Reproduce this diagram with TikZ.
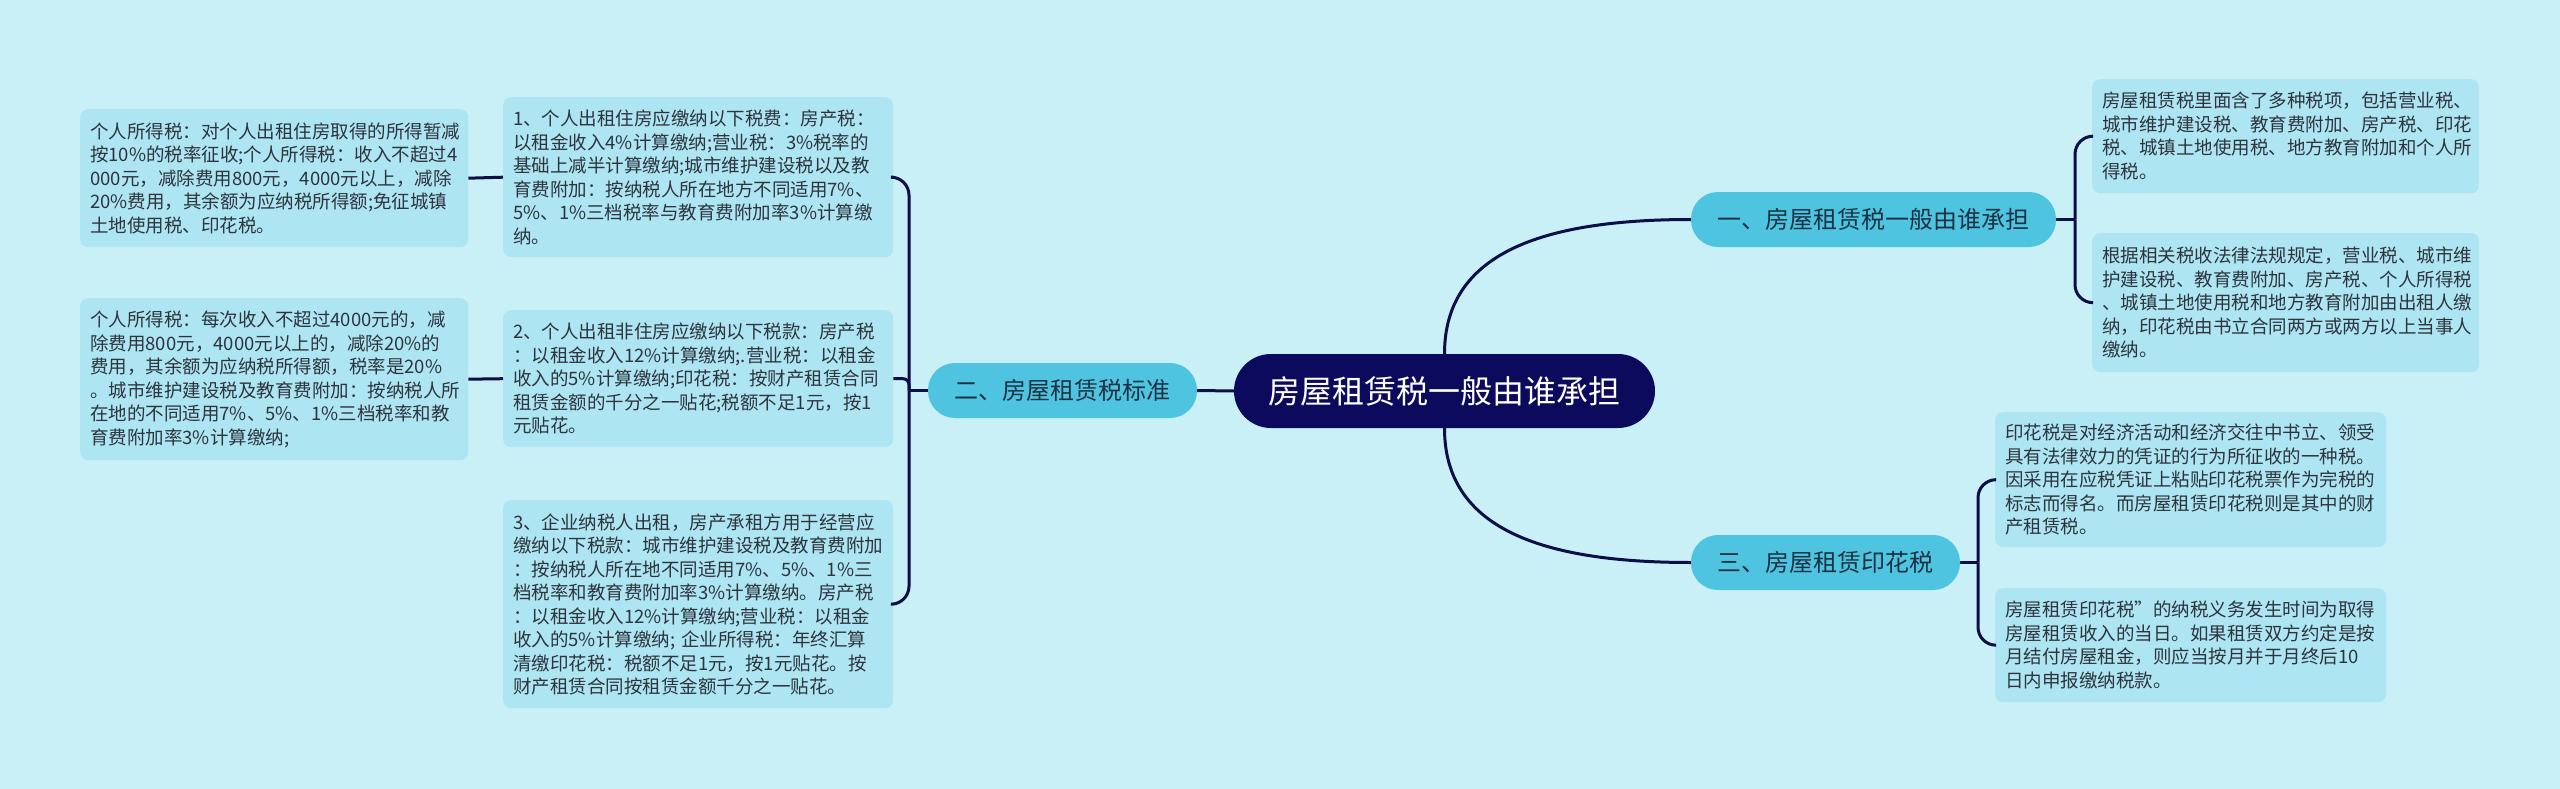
\documentclass[tikz,border=0pt]{standalone}
\usepackage{fontspec}
\setmainfont{Noto Sans CJK SC}
\definecolor{bgc}{RGB}{201,239,247}
\definecolor{leafc}{RGB}{174,229,243}
\definecolor{branchc}{RGB}{78,196,225}
\definecolor{rootc}{RGB}{11,10,92}
\definecolor{linec}{RGB}{12,14,72}
\definecolor{txtc}{RGB}{45,52,60}
\definecolor{btxtc}{RGB}{28,50,66}
\tikzset{
  leaf/.style={fill=leafc, rounded corners=8pt, text=txtc, align=left, inner xsep=10pt, inner ysep=0pt,
    font=\fontsize{18.5pt}{23.5pt}\selectfont, anchor=north west},
  branch/.style={fill=branchc, rounded corners=27pt, text=btxtc, minimum height=55pt, inner xsep=0pt,
    font=\fontsize{24pt}{28pt}\selectfont},
  rootbox/.style={fill=rootc, rounded corners=37pt, text=white, minimum height=74pt, minimum width=421pt,
    font=\fontsize{32pt}{36pt}\selectfont},
  conn/.style={draw=linec, line width=3pt}
}
\begin{document}
\begin{tikzpicture}[x=1pt,y=-1pt]
\fill[bgc] (0,0) rectangle (2560,789);
\useasboundingbox (0,0) rectangle (2560,789);

% root and branches
\node[rootbox] (root) at (1444.5,391) {房屋租赁税一般由谁承担};
\node[branch, minimum width=365pt] (b1) at (1873.5,219.5) {一、房屋租赁税一般由谁承担};
\node[branch, minimum width=269pt] (b2) at (1062.5,390.5) {二、房屋租赁税标准};
\node[branch, minimum width=269pt] (b3) at (1825.5,562.5) {三、房屋租赁印花税};

% right leaves
\node[leaf, text width=367pt, minimum height=114pt] (r1) at (2092,79) {房屋租赁税里面含了多种税项，包括营业税、\\城市维护建设税、教育费附加、房产税、印花\\税、城镇土地使用税、地方教育附加和个人所\\得税。};
\node[leaf, text width=367pt, minimum height=139pt] (r2) at (2092,233) {根据相关税收法律法规规定，营业税、城市维\\护建设税、教育费附加、房产税、个人所得税\\、城镇土地使用税和地方教育附加由出租人缴\\纳，印花税由书立合同两方或两方以上当事人\\缴纳。};
\node[leaf, text width=371pt, minimum height=135pt] (r3) at (1995,412) {印花税是对经济活动和经济交往中书立、领受\\具有法律效力的凭证的行为所征收的一种税。\\因采用在应税凭证上粘贴印花税票作为完税的\\标志而得名。而房屋租赁印花税则是其中的财\\产租赁税。};
\node[leaf, text width=371pt, minimum height=114pt] (r4) at (1995,588) {房屋租赁印花税”的纳税义务发生时间为取得\\房屋租赁收入的当日。如果租赁双方约定是按\\月结付房屋租金，则应当按月并于月终后10\\日内申报缴纳税款。};

% middle-left leaves
\node[leaf, text width=370pt, minimum height=160pt] (m1) at (503,97) {1、个人出租住房应缴纳以下税费：房产税：\\以租金收入4\%计算缴纳;营业税：3\%税率的\\基础上减半计算缴纳;城市维护建设税以及教\\育费附加：按纳税人所在地方不同适用7\%、\\5\%、1\%三档税率与教育费附加率3\%计算缴\\纳。};
\node[leaf, text width=370pt, minimum height=137pt] (m2) at (503,310) {2、个人出租非住房应缴纳以下税款：房产税\\：以租金收入12\%计算缴纳;.营业税：以租金\\收入的5\%计算缴纳;印花税：按财产租赁合同\\租赁金额的千分之一贴花;税额不足1元，按1\\元贴花。};
\node[leaf, text width=370pt, minimum height=208pt] (m3) at (503,500) {3、企业纳税人出租，房产承租方用于经营应\\缴纳以下税款：城市维护建设税及教育费附加\\：按纳税人所在地不同适用7\%、5\%、1\%三\\档税率和教育费附加率3\%计算缴纳。房产税\\：以租金收入12\%计算缴纳;营业税：以租金\\收入的5\%计算缴纳;~企业所得税：年终汇算\\清缴印花税：税额不足1元，按1元贴花。按\\财产租赁合同按租赁金额千分之一贴花。};

% far-left leaves
\node[leaf, text width=368pt, minimum height=138pt] (l1) at (80,109) {个人所得税：对个人出租住房取得的所得暂减\\按10\%的税率征收;个人所得税：收入不超过4\\000元，减除费用800元，4000元以上，减除\\20\%费用，其余额为应纳税所得额;免征城镇\\土地使用税、印花税。};
\node[leaf, text width=368pt, minimum height=162pt] (l2) at (80,298) {个人所得税：每次收入不超过4000元的，减\\除费用800元，4000元以上的，减除20\%的\\费用，其余额为应纳税所得额，税率是20\%\\。城市维护建设税及教育费附加：按纳税人所\\在地的不同适用7\%、5\%、1\%三档税率和教\\育费附加率3\%计算缴纳;};

% connectors
\draw[conn] (root.west) -- (b2.east);
\draw[conn] (root.north) .. controls +(0,-100) and +(-150,0) .. (b1.west);
\draw[conn] (root.south) .. controls +(0,100) and +(-150,0) .. (b3.west);

\coordinate (j1) at (2075,219.5);
\draw[conn] (b1.east) -- (j1);
\draw[conn, rounded corners=18pt] (j1) |- (r1.west);
\draw[conn, rounded corners=18pt] (j1) |- (r2.west);

\coordinate (j3) at (1978,562.5);
\draw[conn] (b3.east) -- (j3);
\draw[conn, rounded corners=18pt] (j3) |- (r3.west);
\draw[conn, rounded corners=18pt] (j3) |- (r4.west);

\coordinate (j2) at (909,390.5);
\draw[conn] (b2.west) -- (j2);
\draw[conn, rounded corners=18pt] (j2) |- (m1.east);
\draw[conn, rounded corners=6pt] (j2) |- (m2.east);
\draw[conn, rounded corners=18pt] (j2) |- (m3.east);

\draw[conn] (l1.east) -- (m1.west);
\draw[conn] (l2.east) -- (m2.west);
\end{tikzpicture}
\end{document}
